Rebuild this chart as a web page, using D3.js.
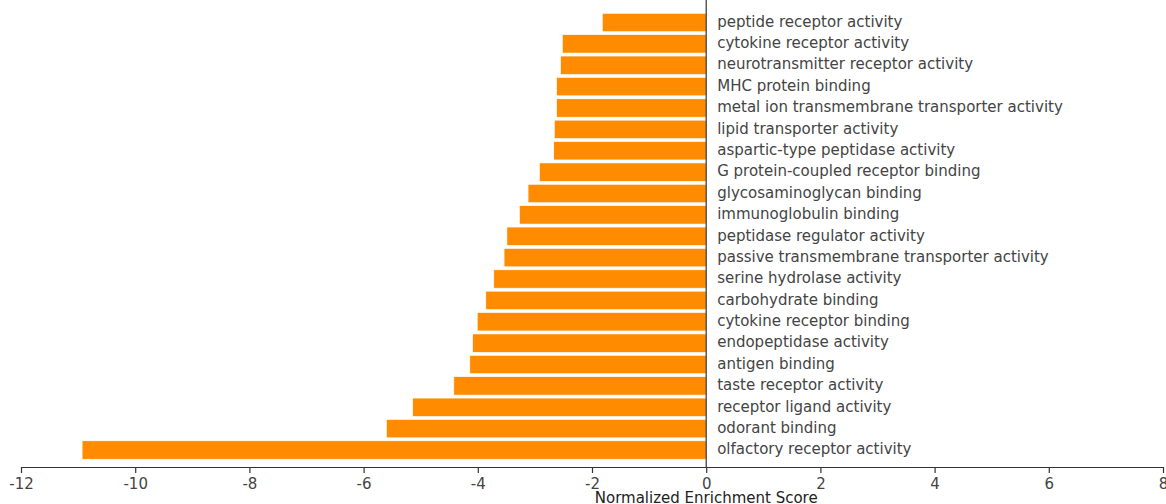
<!DOCTYPE html>
<html>
<head>
<meta charset="utf-8">
<script src="https://cdn.jsdelivr.net/npm/d3@7"></script>
<style>
  body { margin: 0; background: #fff; }
  text { font-family: "DejaVu Sans", sans-serif; }
</style>
</head>
<body>
<script>
const terms = [
  "peptide receptor activity",
  "cytokine receptor activity",
  "neurotransmitter receptor activity",
  "MHC protein binding",
  "metal ion transmembrane transporter activity",
  "lipid transporter activity",
  "aspartic-type peptidase activity",
  "G protein-coupled receptor binding",
  "glycosaminoglycan binding",
  "immunoglobulin binding",
  "peptidase regulator activity",
  "passive transmembrane transporter activity",
  "serine hydrolase activity",
  "carbohydrate binding",
  "cytokine receptor binding",
  "endopeptidase activity",
  "antigen binding",
  "taste receptor activity",
  "receptor ligand activity",
  "odorant binding",
  "olfactory receptor activity"
];
const nes = [-1.82, -2.52, -2.55, -2.62, -2.62, -2.66, -2.67, -2.92, -3.12, -3.27,
  -3.49, -3.54, -3.72, -3.86, -4.01, -4.09, -4.14, -4.42, -5.14, -5.60, -10.93];
const xTicks = [-12, -10, -8, -6, -4, -2, 0, 2, 4, 6, 8];

const width = 1166, height = 504;
const margin = { left: 21, right: 3, axisY: 467 };

const x = d3.scaleLinear().domain([-12, 8]).range([margin.left, width - margin.right]);
const y = d3.scaleBand().domain(terms).range([11.8, 460.7]).paddingInner(0.14).paddingOuter(0.07);

const svg = d3.select("body").append("svg")
  .attr("width", width)
  .attr("height", height);

// Bars
svg.append("g")
  .selectAll("rect")
  .data(terms)
  .join("rect")
  .attr("x", (d, i) => x(nes[i]))
  .attr("y", d => y(d))
  .attr("width", (d, i) => x(0) - x(nes[i]))
  .attr("height", y.bandwidth())
  .attr("fill", "#ff8c00")
  .attr("stroke", "#fff")
  .attr("stroke-width", 0.6);

// Zero line
svg.append("line")
  .attr("x1", x(0)).attr("x2", x(0))
  .attr("y1", 0).attr("y2", margin.axisY)
  .attr("stroke", "#333")
  .attr("stroke-width", 1.2);

// Term labels
svg.append("g")
  .selectAll("text")
  .data(terms)
  .join("text")
  .attr("x", x(0) + 11)
  .attr("y", d => y(d) + y.bandwidth() / 2 - 1)
  .attr("dy", "0.35em")
  .attr("font-size", 15)
  .attr("fill", "#444")
  .text(d => d);

// X axis
const xAxis = svg.append("g")
  .attr("transform", `translate(0,${margin.axisY})`)
  .call(d3.axisBottom(x).tickValues(xTicks).tickFormat(d => String(d))
    .tickSize(6).tickSizeOuter(0).tickPadding(5));
xAxis.select(".domain").attr("stroke", "#333").attr("stroke-width", 1.2);
xAxis.selectAll(".tick line").attr("stroke", "#333").attr("stroke-width", 1.2);
xAxis.selectAll(".tick text")
  .attr("font-size", 15)
  .attr("font-family", "DejaVu Sans, sans-serif")
  .attr("fill", "#444");

svg.append("text")
  .attr("x", x(0))
  .attr("y", 503)
  .attr("text-anchor", "middle")
  .attr("font-size", 15)
  .attr("fill", "#222")
  .text("Normalized Enrichment Score");
</script>
</body>
</html>
